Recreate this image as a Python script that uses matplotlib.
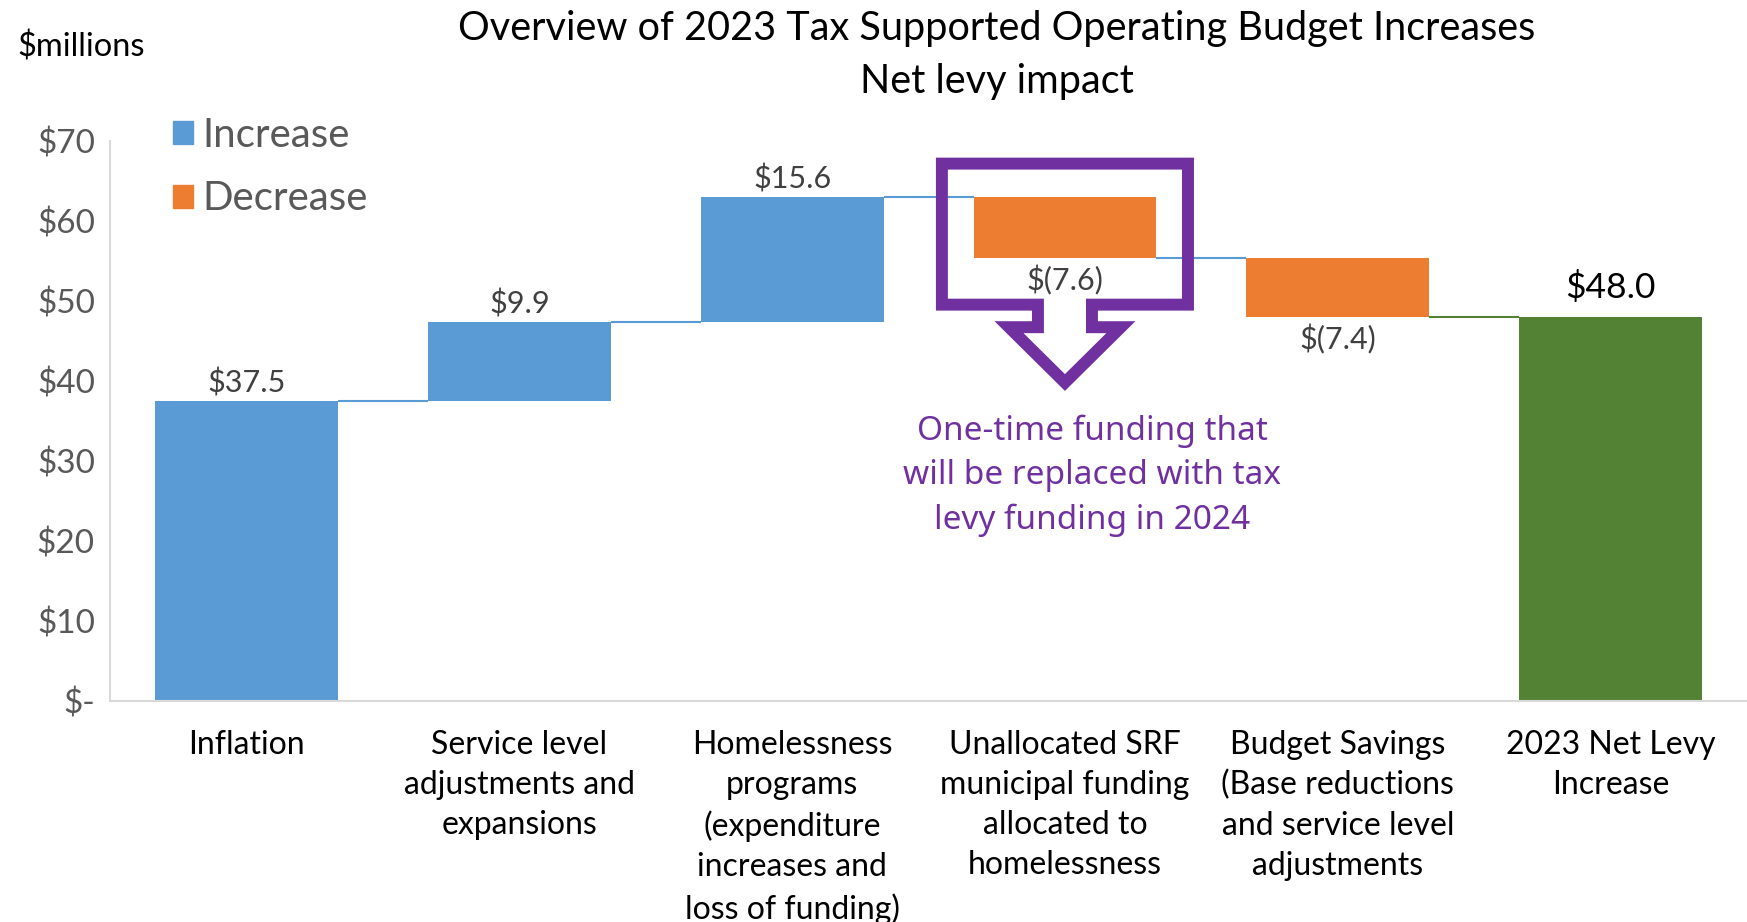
import numpy as np
import matplotlib
matplotlib.use("Agg")
import matplotlib.pyplot as plt
from matplotlib.patches import Patch, Polygon

# budget drivers for the 2023 net levy, $ millions
categories = [
    "Inflation",
    "Service level\nadjustments and\nexpansions",
    "Homelessness\nprograms\n(expenditure\nincreases and\nloss of funding)",
    "Unallocated SRF\nmunicipal funding\nallocated to\nhomelessness",
    "Budget Savings\n(Base reductions\nand service level\nadjustments",
    "2023 Net Levy\nIncrease",
]
changes = [37.5, 9.9, 15.6, -7.6, -7.4]
net_total = 48.0
y_ticks = [0, 10, 20, 30, 40, 50, 60, 70]

BLUE = "#5B9BD5"
ORANGE = "#ED7D31"
GREEN = "#548235"
PURPLE = "#7030A0"
GREY = "#595959"

plt.rcParams["font.family"] = ["Lato", "DejaVu Sans"]

def money(v):
    return "${:.1f}".format(v) if v >= 0 else "$({:.1f})".format(-v)

fig = plt.figure(figsize=(17.47, 9.22), dpi=100)
ax = fig.add_axes([0.063, 0.240, 0.937, 0.607])

width = 0.67
x = np.arange(len(categories))
ends = np.cumsum(changes)
starts = ends - np.array(changes)

# floating bars for each step
for i, (s, c) in enumerate(zip(starts, changes)):
    col = BLUE if c > 0 else ORANGE
    ax.bar(x[i], c, bottom=s, width=width, color=col, zorder=2)
    if c > 0:
        ax.annotate(money(c), (x[i], s + c), xytext=(0, 13), textcoords="offset points",
                    ha="center", va="center", fontsize=22, color="#404040")
    else:
        ax.annotate(money(c), (x[i], s + c), xytext=(0, -16), textcoords="offset points",
                    ha="center", va="center", fontsize=22, color="#404040")

# total bar
ax.bar(x[-1], net_total, width=width, color=GREEN, zorder=2)
ax.annotate(money(net_total), (x[-1], net_total), xytext=(0, 21), textcoords="offset points",
            ha="center", va="center", fontsize=25.5, color="black")

# connector lines between steps
levels = list(ends)
for i, lv in enumerate(levels):
    col = GREEN if i == len(levels) - 1 else BLUE
    ax.hlines(lv, x[i] + width / 2, x[i + 1] - width / 2, color=col, lw=1.5, zorder=1)

ax.set_xlim(-0.5, len(categories) - 0.5)
ax.set_ylim(0, 70)
ax.set_yticks(y_ticks)
ax.set_yticklabels(["$-" if t == 0 else "${}".format(t) for t in y_ticks])
ax.set_xticks(x)
ax.set_xticklabels(categories, fontsize=23, color="black", linespacing=1.42, va="top")
ax.tick_params(axis="y", length=0, pad=11, labelsize=24, labelcolor=GREY)
ax.tick_params(axis="x", length=0, pad=21)
for side in ["top", "right"]:
    ax.spines[side].set_visible(False)
for side in ["left", "bottom"]:
    ax.spines[side].set_color("#D9D9D9")
    ax.spines[side].set_linewidth(1.5)

# legend
handles = [Patch(color=BLUE, label="Increase"), Patch(color=ORANGE, label="Decrease")]
ax.legend(handles=handles, loc="upper left", bbox_to_anchor=(0.016, 1.108), frameon=False,
          fontsize=29, labelcolor=GREY, handlelength=0.5, handleheight=0.5,
          handletextpad=0.25, labelspacing=0.66)

# callout arrow around the SRF bar
cx = x[3]
callout = [
    (cx - 0.451, 67.18), (cx + 0.451, 67.18), (cx + 0.451, 49.54),
    (cx + 0.099, 49.54), (cx + 0.099, 46.72), (cx + 0.205, 46.72),
    (cx, 39.8), (cx - 0.205, 46.72), (cx - 0.099, 46.72),
    (cx - 0.099, 49.54), (cx - 0.451, 49.54),
]
ax.add_patch(Polygon(callout, closed=True, fill=False, edgecolor=PURPLE, lw=8.6,
                     joinstyle="miter", clip_on=False, zorder=4))
ax.text(cx + 0.10, 28.1, "One-time funding that\nwill be replaced with tax\nlevy funding in 2024",
        ha="center", va="center", fontsize=24, color=PURPLE, linespacing=1.45,
        family=["Noto Sans", "DejaVu Sans"])

fig.text(0.5707, 0.969, "Overview of 2023 Tax Supported Operating Budget Increases",
         ha="center", va="center", fontsize=28.5)
fig.text(0.5707, 0.912, "Net levy impact", ha="center", va="center", fontsize=28.5)
fig.text(0.0097, 0.949, "$millions", ha="left", va="center", fontsize=23.5)

fig.savefig("out.png", dpi=100)
